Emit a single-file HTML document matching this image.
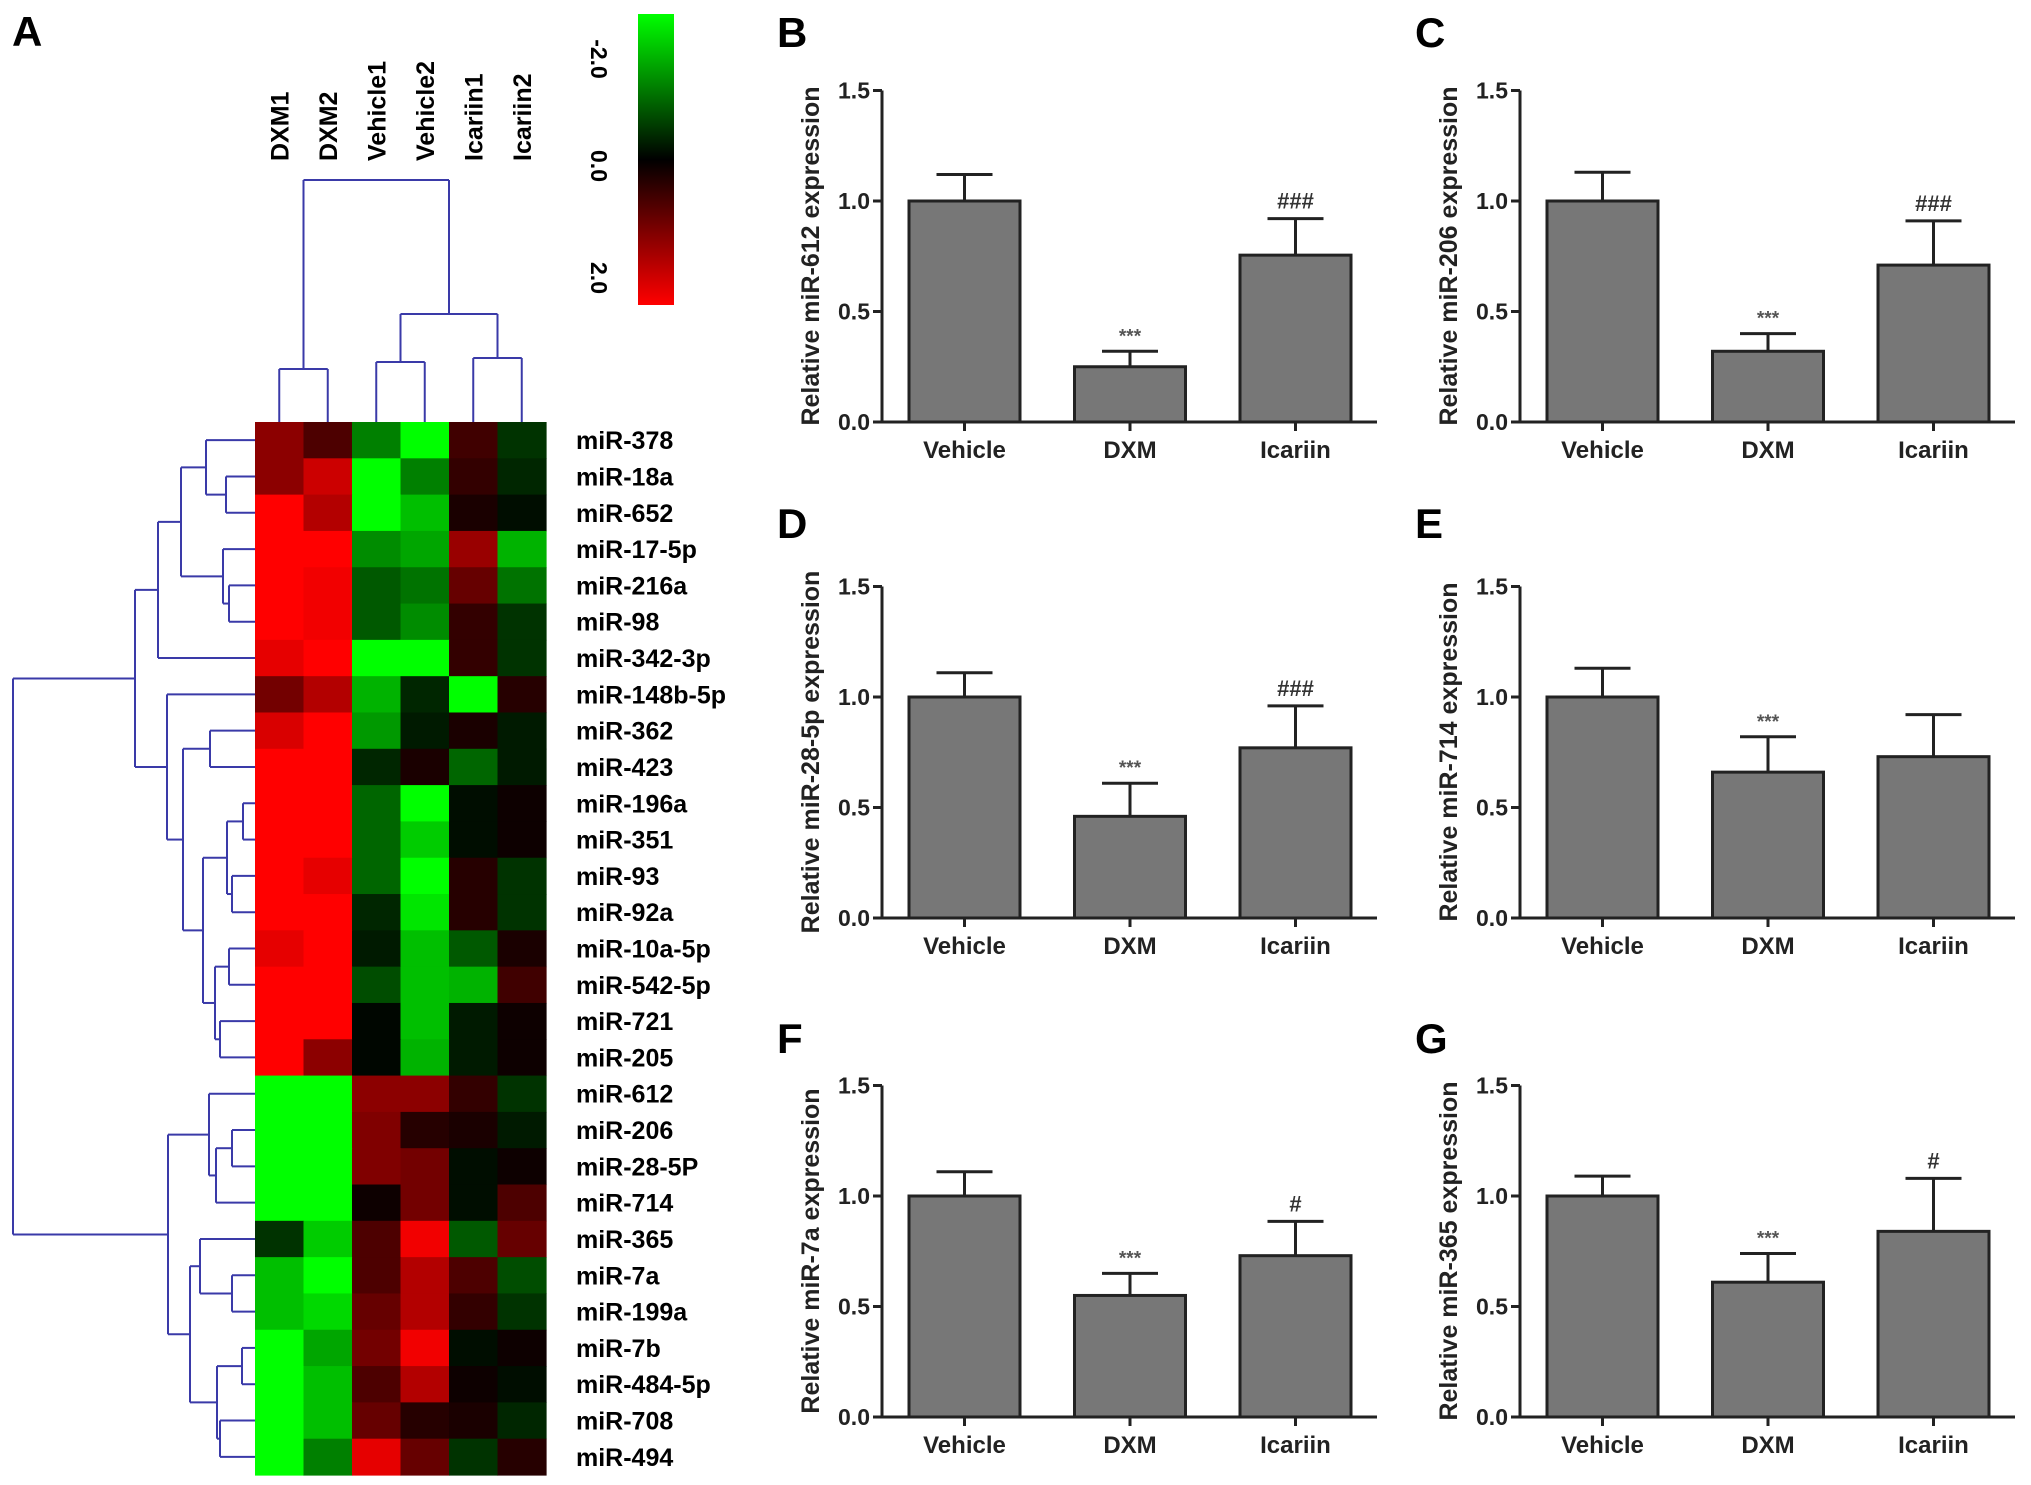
<!DOCTYPE html>
<html><head><meta charset="utf-8">
<style>
html,body{margin:0;padding:0;background:#fff;}
svg{display:block;font-family:"Liberation Sans",Arial,sans-serif;font-weight:bold;}
</style></head>
<body>
<svg id="fig" width="2031" height="1485" viewBox="0 0 2031 1485" xmlns="http://www.w3.org/2000/svg">
<defs>
<linearGradient id="cbar" x1="0" y1="0" x2="0" y2="1">
<stop offset="0" stop-color="#00ff00"/><stop offset="0.5" stop-color="#000"/><stop offset="1" stop-color="#ff0000"/>
</linearGradient>
</defs>
<text x="12" y="46" font-size="42">A</text>
<g id="heat"></g>
<g id="dend"></g>
<rect x="638" y="14" width="36" height="291" fill="url(#cbar)"/>
<text transform="translate(591,59) rotate(90)" font-size="23" text-anchor="middle">-2.0</text>
<text transform="translate(591,166) rotate(90)" font-size="23" text-anchor="middle">0.0</text>
<text transform="translate(591,278) rotate(90)" font-size="23" text-anchor="middle">2.0</text>
<g id="bars"></g>
</svg>
<script>
const NS="http://www.w3.org/2000/svg";
const samples=["DXM1","DXM2","Vehicle1","Vehicle2","Icariin1","Icariin2"];
const mirnas=["miR-378","miR-18a","miR-652","miR-17-5p","miR-216a","miR-98","miR-342-3p","miR-148b-5p","miR-362","miR-423","miR-196a","miR-351","miR-93","miR-92a","miR-10a-5p","miR-542-5p","miR-721","miR-205","miR-612","miR-206","miR-28-5P","miR-714","miR-365","miR-7a","miR-199a","miR-7b","miR-484-5p","miR-708","miR-494"];
const heatValues=[
[1.1,0.6,-1.0,-2,0.5,-0.4],[1.1,1.6,-2,-1.0,0.4,-0.3],[2,1.4,-2,-1.5,0.2,-0.1],
[2,2,-1.1,-1.3,1.2,-1.4],[2,1.9,-0.7,-0.9,0.8,-0.9],[2,1.9,-0.7,-1.1,0.4,-0.4],
[1.8,2,-2,-2,0.4,-0.4],[0.9,1.4,-1.4,-0.3,-2,0.3],[1.7,2,-1.2,-0.2,0.2,-0.2],
[2,2,-0.3,0.2,-0.8,-0.2],[2,2,-0.8,-2,-0.1,0.1],[2,2,-0.8,-1.6,-0.1,0.1],
[2,1.8,-0.8,-2,0.3,-0.4],[2,2,-0.3,-1.8,0.3,-0.4],[1.8,2,-0.2,-1.5,-0.7,0.2],
[2,2,-0.6,-1.5,-1.4,0.5],[2,2,-0.05,-1.5,-0.2,0.1],[2,1.1,-0.05,-1.4,-0.2,0.1],
[-2,-2,1.1,1.1,0.4,-0.4],[-2,-2,1.0,0.3,0.2,-0.2],[-2,-2,1.0,0.9,-0.1,0.1],
[-2,-2,0.1,0.9,-0.1,0.6],[-0.4,-1.6,0.6,1.9,-0.7,0.8],[-1.5,-2,0.6,1.4,0.6,-0.6],
[-1.5,-1.7,0.8,1.4,0.4,-0.4],[-2,-1.3,0.9,1.9,-0.1,0.1],[-2,-1.5,0.6,1.4,0.1,-0.1],
[-2,-1.5,0.8,0.3,0.2,-0.3],[-2,-1.0,1.8,0.8,-0.4,0.3]];
// dendrogram merges: [left,right,height]
const rowTree=[[[[0,[1,2,226],206],[3,[4,5,229],223],181],6,158],[7,[[8,9,210],[[[10,11,243],[12,13,232],227],[[14,15,229],[16,17,220],215],203],183],167],135];
const rowTreeLow=[[18,[[19,20,232],21,216],209],[[22,[23,24,232],200],[[25,26,242],[27,28,220],217],190],168];
const colTree=[[0,1,369],[[2,3,362],[4,5,358],314],180];

const categories=["Vehicle","DXM","Icariin"];
const panelLetters=["B","C","D","E","F","G"];
const panelGenes=["miR-612","miR-206","miR-28-5p","miR-714","miR-7a","miR-365"];
const meanB=[1.0,0.25,0.755], errB=[1.12,0.32,0.92];
const meanC=[1.0,0.32,0.71], errC=[1.13,0.40,0.91];
const meanD=[1.0,0.46,0.77], errD=[1.11,0.61,0.96];
const meanE=[1.0,0.66,0.73], errE=[1.13,0.82,0.92];
const meanF=[1.0,0.55,0.73], errF=[1.11,0.65,0.885];
const meanG=[1.0,0.61,0.84], errG=[1.09,0.74,1.08];
const sigDXM=["***","***","***","***","***","***"];
const sigIcariin=["###","###","###","","#","#"];
const yTicks=[0,0.5,1.0,1.5];
const yTickLabels=["0.0","0.5","1.0","1.5"];

function el(tag,attrs,parent){const e=document.createElementNS(NS,tag);for(const k in attrs)e.setAttribute(k,attrs[k]);parent.appendChild(e);return e;}

// heatmap
const HX=255,HY=422,CW=48.5,RH=(1475-422)/29;
const heat=document.getElementById('heat');
function heatColor(v){const t=Math.max(-1,Math.min(1,v/2));const c=Math.round(Math.abs(t)*255);return t>=0?`rgb(${c},0,0)`:`rgb(0,${c},0)`;}
const colX=i=>HX+CW*(i+0.5), rowY=i=>HY+RH*(i+0.5);
heatValues.forEach((row,r)=>row.forEach((v,c)=>{
 const e=el('rect',{x:HX+CW*c,y:HY+RH*r,width:CW+0.6,height:RH+0.6,fill:heatColor(v)},heat);
 
 
}));
mirnas.forEach((m,r)=>{
 const t=el('text',{x:576,y:rowY(r)+9,'font-size':25},heat);t.textContent=m;
 
 
});
samples.forEach((s,c)=>{
 const t=el('text',{transform:`translate(${colX(c)+9},161) rotate(-90)`,'font-size':25},heat);t.textContent=s;
 
 
});
// dendrograms
const dend=document.getElementById('dend');
function line(x1,y1,x2,y2){const l=el('line',{x1,y1,x2,y2,stroke:'#3a3aa8','stroke-width':2},dend);
 
 }
function drawRow(n){ // returns [x, y]
 if(typeof n==='number')return [HX,rowY(n)];
 const a=drawRow(n[0]),b=drawRow(n[1]),h=n[2];
 line(h,a[1],h,b[1]);line(h,a[1],a[0],a[1]);line(h,b[1],b[0],b[1]);
 return [h,(a[1]+b[1])/2];
}
const up=drawRow(rowTree),lo=drawRow(rowTreeLow);
line(13,up[1],13,lo[1]);line(13,up[1],up[0],up[1]);line(13,lo[1],lo[0],lo[1]);
function drawCol(n){
 if(typeof n==='number')return [colX(n),HY];
 const a=drawCol(n[0]),b=drawCol(n[1]),h=n[2];
 line(a[0],h,b[0],h);line(a[0],h,a[0],a[1]);line(b[0],h,b[0],b[1]);
 return [(a[0]+b[0])/2,h];
}
drawCol(colTree);

// bar panels
const bars=document.getElementById('bars');
const means=[meanB,meanC,meanD,meanE,meanF,meanG], errs=[errB,errC,errD,errE,errF,errG];
const axisX=[882,1520], baseY=[422,918,1417];
const labelY=[47,538,1053];
const UNIT=221, BW=111, SP=165.5;
panelLetters.forEach((L,p)=>{
 const ax=axisX[p%2], y0=baseY[Math.floor(p/2)];
 const g=el('g',{},bars);
 
 
 const yS=v=>y0-v*UNIT, xC=i=>ax+27+BW/2+SP*i;
 const lt=el('text',{x:ax-105,y:labelY[Math.floor(p/2)],'font-size':42},g);lt.textContent=L;
 
 
 const yt=el('text',{transform:`translate(${ax-63},${y0-166}) rotate(-90)`,'font-size':25,'text-anchor':'middle',fill:'#222'},g);
 yt.textContent='Relative '+panelGenes[p]+' expression';
 
 
 means[p].forEach((m,i)=>{
  const e=errs[p][i];
  const el1=el('line',{x1:xC(i),y1:yS(m),x2:xC(i),y2:yS(e),stroke:'#222','stroke-width':3},g);
  
  
  const cap=el('line',{x1:xC(i)-28,y1:yS(e),x2:xC(i)+28,y2:yS(e),stroke:'#222','stroke-width':3},g);
  
  
  const r=el('rect',{x:xC(i)-BW/2,y:yS(m),width:BW,height:m*UNIT,fill:'#777',stroke:'#222','stroke-width':3},g);
  
  
  const tk=el('line',{x1:xC(i),y1:y0,x2:xC(i),y2:y0+9,stroke:'#222','stroke-width':3},g);
  
  
  const ct=el('text',{x:xC(i),y:y0+36,'font-size':24,'text-anchor':'middle',fill:'#222'},g);ct.textContent=categories[i];
  
  
  const sig=i===1?sigDXM[p]:(i===2?sigIcariin[p]:'');
  if(sig){
   const st=el('text',{x:xC(i),y:yS(e)-(i===1?9:10),'font-size':i===1?19:22,'text-anchor':'middle',fill:i===1?'#555':'#333'},g);st.textContent=sig;
   
   
  }
 });
 const ya=el('line',{x1:ax,y1:yS(1.5),x2:ax,y2:y0,stroke:'#222','stroke-width':3},g);
 
 
 const xa=el('line',{x1:ax-9,y1:y0,x2:ax+495,y2:y0,stroke:'#222','stroke-width':3},g);
 
 
 yTicks.forEach((v,k)=>{
  const t=el('line',{x1:ax-9,y1:yS(v),x2:ax,y2:yS(v),stroke:'#222','stroke-width':3},g);
  
  
  const tl=el('text',{x:ax-12,y:yS(v)+8,'font-size':23,'text-anchor':'end',fill:'#222'},g);tl.textContent=yTickLabels[k];
  
  
 });
});
</script>
</body></html>
